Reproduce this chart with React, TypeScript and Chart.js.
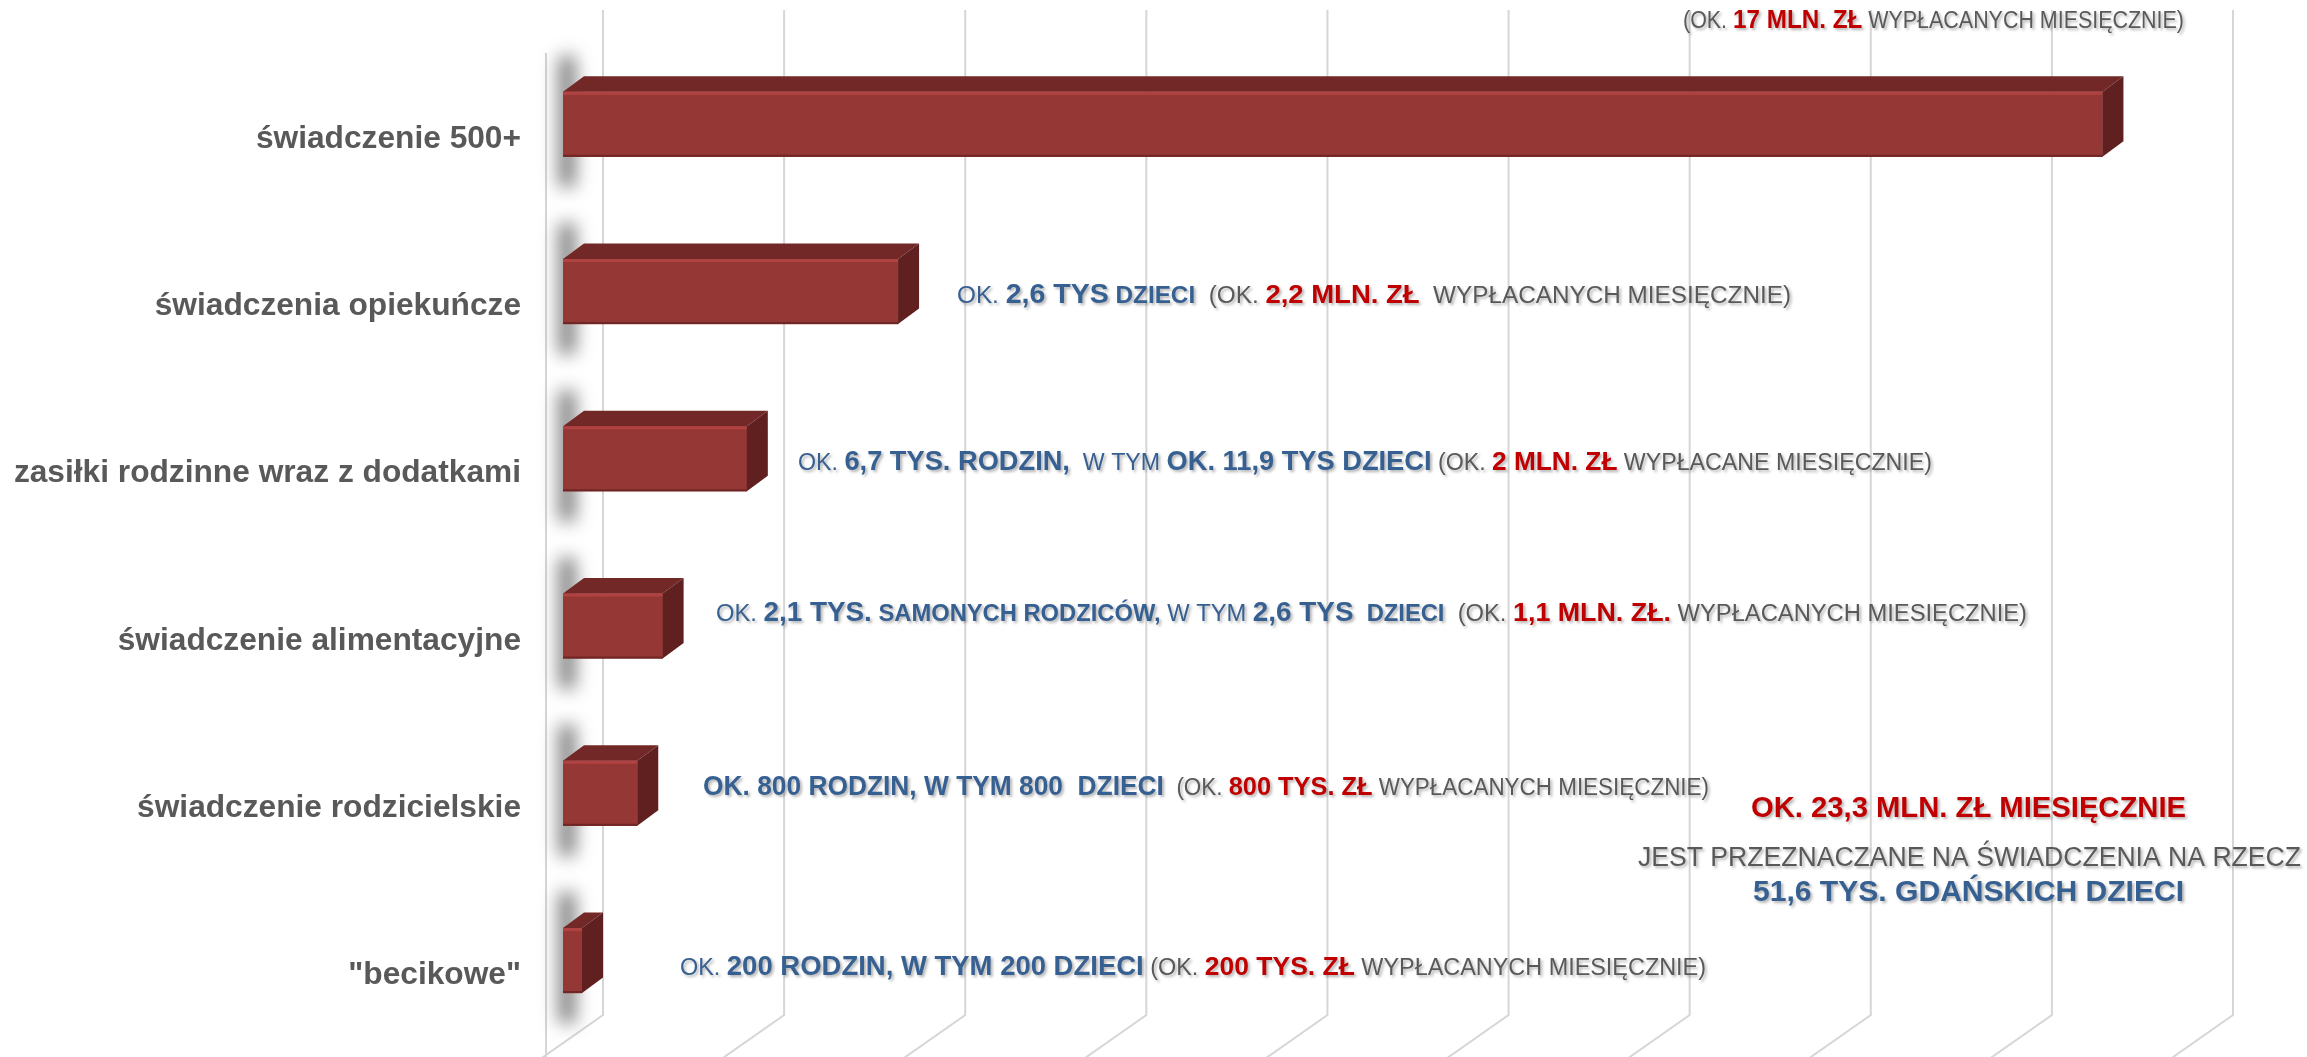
import React, { useEffect, useRef } from "react";
import { Chart, registerables } from "chart.js";

Chart.register(...registerables);

// ---------- data ----------
const categories = [
  "świadczenie 500+",
  "świadczenia opiekuńcze",
  "zasiłki rodzinne wraz z dodatkami",
  "świadczenie alimentacyjne",
  "świadczenie rodzicielskie",
  '"becikowe"',
];
// monthly amounts, mln zł
const values = [17.0, 3.7, 2.03, 1.1, 0.82, 0.21];
const axisMin = 0;
const axisMax = 18;
const axisStep = 2;

// annotation texts: [text, styleKey]
type Seg = [string, string];
const noteTop: Seg[] = [["(OK. ", "g"], ["17 MLN. ZŁ", "r"], [" WYPŁACANYCH MIESIĘCZNIE)", "g"]];
const noteOpiek: Seg[] = [["OK. ", "n"], ["2,6 TYS", "B"], [" DZIECI", "b"], ["  (OK. ", "g"], ["2,2 MLN. ZŁ", "r"], ["  WYPŁACANYCH MIESIĘCZNIE)", "g"]];
const noteZasilki: Seg[] = [["OK. ", "n"], ["6,7 TYS. RODZIN,", "B"], ["  W TYM ", "n"], ["OK. 11,9 TYS DZIECI", "B"], [" (OK. ", "g"], ["2 MLN. ZŁ", "r"], [" WYPŁACANE MIESIĘCZNIE)", "g"]];
const noteAlim: Seg[] = [["OK. ", "n"], ["2,1 TYS.", "B"], [" SAMONYCH RODZICÓW,", "b"], [" W TYM ", "n"], ["2,6 TYS", "B"], ["  DZIECI", "b"], ["  (OK. ", "g"], ["1,1 MLN. ZŁ.", "r"], [" WYPŁACANYCH MIESIĘCZNIE)", "g"]];
const noteRodz: Seg[] = [["OK. 800 RODZIN, W TYM 800  DZIECI", "B"], ["  (OK. ", "g"], ["800 TYS. ZŁ", "r"], [" WYPŁACANYCH MIESIĘCZNIE)", "g"]];
const noteBecik: Seg[] = [["OK. ", "n"], ["200 RODZIN, W TYM 200 DZIECI", "B"], [" (OK. ", "g"], ["200 TYS. ZŁ", "r"], [" WYPŁACANYCH MIESIĘCZNIE)", "g"]];
const summary1: Seg[] = [["OK. 23,3 MLN. ZŁ MIESIĘCZNIE", "R"]];
const summary2: Seg[] = [["JEST PRZEZNACZANE NA ŚWIADCZENIA NA RZECZ", "G"]];
const summary3: Seg[] = [["51,6 TYS. GDAŃSKICH DZIECI", "N"]];

// ---------- styling / layout ----------
const FONT = '"Liberation Sans", Arial, "DejaVu Sans", sans-serif';
const BLUE = "#376092";
const RED = "#c00000";
const GRAY = "#595959";
const STYLES: Record<string, { c: string; b: boolean; s: number }> = {
  n: { c: BLUE, b: false, s: 23 },
  B: { c: BLUE, b: true, s: 27 },
  b: { c: BLUE, b: true, s: 23 },
  g: { c: GRAY, b: false, s: 23 },
  r: { c: RED, b: true, s: 26 },
  R: { c: RED, b: true, s: 29 },
  G: { c: GRAY, b: false, s: 27 },
  N: { c: BLUE, b: true, s: 29 },
};
// [segments, x start, x end, y centre]
const NOTES: [Seg[], number, number, number][] = [
  [noteTop, 1683, 2184, 20],
  [noteOpiek, 957, 1791, 295],
  [noteZasilki, 798, 1932, 462],
  [noteAlim, 716, 2027, 613],
  [noteRodz, 703, 1709, 785],
  [noteBecik, 680, 1706, 967],
  [summary1, 1751, 2186, 807],
  [summary2, 1638, 2301, 856],
  [summary3, 1753, 2184, 891],
];

const W = 2307;
const H = 1057;
const BAR_DX = 21; // bar depth offset
const BAR_DY = 15.5;
const BACK_DX = 40; // back wall offset from bar front plane
const FRONT_DX = -17; // front plane offset from bar front plane
const GRID_TOP = 10;
const FLOOR_BACK_Y = 1015;
const FLOOR_FRONT_Y = 1055;
const WALL_TOP = 53;

function drawRow(ctx: CanvasRenderingContext2D, segs: Seg[], x0: number, x1: number, yc: number) {
  ctx.save();
  let total = 0;
  const widths: number[] = [];
  let base = 0;
  segs.forEach(([t, k]) => {
    const st = STYLES[k];
    ctx.font = `${st.b ? "bold " : ""}${st.s}px ${FONT}`;
    const w = ctx.measureText(t).width;
    widths.push(w);
    total += w;
    if (!st.b || base === 0) base = Math.max(base, st.s);
  });
  const sx = (x1 - x0) / total;
  ctx.translate(x0, yc + base * 0.36);
  ctx.scale(sx, 1);
  ctx.textBaseline = "alphabetic";
  ctx.textAlign = "left";
  ctx.shadowColor = "rgba(0,0,0,0.3)";
  ctx.shadowBlur = 3;
  ctx.shadowOffsetX = 2;
  ctx.shadowOffsetY = 2;
  let x = 0;
  segs.forEach(([t, k], i) => {
    const st = STYLES[k];
    ctx.font = `${st.b ? "bold " : ""}${st.s}px ${FONT}`;
    ctx.fillStyle = st.c;
    ctx.fillText(t, x, 0);
    x += widths[i];
  });
  ctx.restore();
}

const decoPlugin = {
  id: "deco3d",
  beforeDatasetsDraw(chart: any) {
    const ctx: CanvasRenderingContext2D = chart.ctx;
    const xs = chart.scales.x;
    ctx.save();
    ctx.strokeStyle = "#d6d6d6";
    ctx.lineWidth = 2;
    const slope = (BACK_DX - FRONT_DX) / (FLOOR_FRONT_Y - FLOOR_BACK_Y);
    xs.ticks.forEach((t: any) => {
      const px = xs.getPixelForValue(t.value);
      const bx = px + BACK_DX;
      ctx.beginPath();
      ctx.moveTo(bx, GRID_TOP);
      ctx.lineTo(bx, FLOOR_BACK_Y);
      ctx.lineTo(bx - slope * (H + 5 - FLOOR_BACK_Y), H + 5);
      ctx.stroke();
    });
    const wx = xs.getPixelForValue(axisMin) + FRONT_DX;
    ctx.beginPath();
    ctx.moveTo(wx, WALL_TOP);
    ctx.lineTo(wx, H + 5);
    ctx.stroke();
    ctx.restore();

    // soft shadows on the wall behind the bars
    const meta = chart.getDatasetMeta(0);
    meta.data.forEach((bar: any) => {
      const { base, y, height } = bar.getProps(["base", "y", "height"], true);
      const top = y - height / 2;
      ctx.save();
      ctx.filter = "blur(9px)";
      ctx.fillStyle = "rgba(60,60,60,0.7)";
      ctx.fillRect(base - 4, top - BAR_DY - 20, 16, height + BAR_DY + 50);
      ctx.restore();
    });
  },
  afterDatasetsDraw(chart: any) {
    const ctx: CanvasRenderingContext2D = chart.ctx;
    const meta = chart.getDatasetMeta(0);
    meta.data.forEach((bar: any) => {
      const { x, base, y, height } = bar.getProps(["x", "base", "y", "height"], true);
      const left = Math.min(x, base);
      const right = Math.max(x, base);
      const top = y - height / 2;
      const bottom = y + height / 2;
      ctx.save();
      // top face
      ctx.fillStyle = "#722827";
      ctx.beginPath();
      ctx.moveTo(left, top);
      ctx.lineTo(right, top);
      ctx.lineTo(right + BAR_DX, top - BAR_DY);
      ctx.lineTo(left + BAR_DX, top - BAR_DY);
      ctx.closePath();
      ctx.fill();
      // side face
      ctx.fillStyle = "#602020";
      ctx.beginPath();
      ctx.moveTo(right, top);
      ctx.lineTo(right + BAR_DX, top - BAR_DY);
      ctx.lineTo(right + BAR_DX, bottom - BAR_DY);
      ctx.lineTo(right, bottom);
      ctx.closePath();
      ctx.fill();
      // bevel highlights
      ctx.strokeStyle = "rgba(185,72,70,0.75)";
      ctx.lineWidth = 3;
      ctx.beginPath();
      ctx.moveTo(left, top + 1.5);
      ctx.lineTo(right, top + 1.5);
      ctx.stroke();
      ctx.strokeStyle = "rgba(80,25,25,0.55)";
      ctx.lineWidth = 2;
      ctx.beginPath();
      ctx.moveTo(left, bottom - 1);
      ctx.lineTo(right, bottom - 1);
      ctx.stroke();
      ctx.restore();
    });
  },
  afterDraw(chart: any) {
    const ctx: CanvasRenderingContext2D = chart.ctx;
    NOTES.forEach(([segs, x0, x1, yc]) => drawRow(ctx, segs, x0, x1, yc));
  },
};

export default function App() {
  const ref = useRef<HTMLCanvasElement | null>(null);
  useEffect(() => {
    document.body.style.margin = "0";
    document.body.style.overflow = "hidden";
    const canvas = ref.current;
    if (!canvas) return;
    const chart = new Chart(canvas, {
      type: "bar",
      data: {
        labels: categories,
        datasets: [
          {
            data: values,
            backgroundColor: "#953735",
            borderWidth: 0,
            barThickness: 65,
          },
        ],
      },
      options: {
        indexAxis: "y",
        animation: false,
        responsive: false,
        maintainAspectRatio: false,
        devicePixelRatio: 1,
        layout: { padding: { left: 0, right: 114, top: 40.6, bottom: 12.9 } },
        plugins: { legend: { display: false }, tooltip: { enabled: false } },
        scales: {
          x: {
            display: false,
            min: axisMin,
            max: axisMax,
            ticks: { stepSize: axisStep },
          },
          y: {
            grid: { display: false, drawTicks: false },
            border: { display: false },
            ticks: {
              color: GRAY,
              padding: 42,
              labelOffset: 15,
              font: { family: FONT, size: 31.7, weight: "bold" },
            },
            afterFit: (scale: any) => {
              scale.width = 563;
              scale.paddingTop = 0;
              scale.paddingBottom = 0;
            },
          },
        },
      },
      plugins: [decoPlugin],
    } as any);
    return () => chart.destroy();
  }, []);
  return <canvas ref={ref} width={W} height={H} style={{ display: "block" }} />;
}
